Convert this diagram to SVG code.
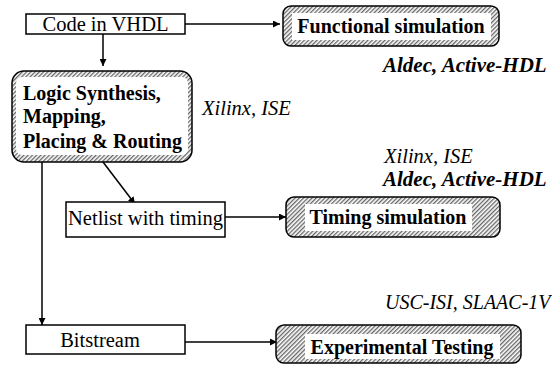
<svg xmlns="http://www.w3.org/2000/svg" width="552" height="365" viewBox="0 0 552 365">
<style>
.box{fill:#fff;stroke:#000;stroke-width:1.5}
.hbox{fill:url(#hatch);stroke:#000;stroke-width:1.5}
.inner{fill:#fff;stroke:none}
.t{font-family:'Liberation Serif',serif;font-size:20.5px;fill:#000}
.b{font-family:'Liberation Serif',serif;font-size:20px;font-weight:bold;fill:#000}
.i{font-family:'Liberation Serif',serif;font-size:20.5px;font-style:italic;fill:#000}
.bi{font-family:'Liberation Serif',serif;font-size:21px;font-style:italic;font-weight:bold;fill:#000}
.c{fill:none;stroke:#000;stroke-width:1.5}
</style>
<defs>
<pattern id="hatch" patternUnits="userSpaceOnUse" width="3" height="3" patternTransform="rotate(45)">
<rect width="3" height="3" fill="#ffffff"/>
<line x1="0.7" y1="0" x2="0.7" y2="3" stroke="#555" stroke-width="1.2"/>
</pattern>
<marker id="arr" viewBox="0 0 10 10" refX="10" refY="5" markerWidth="7" markerHeight="7" markerUnits="userSpaceOnUse" orient="auto">
<path d="M0,0 L10,5 L0,10 z" fill="#000"/>
</marker>
</defs>
<rect width="552" height="365" fill="#fff"/>

<g id="connectors">
<line class="c" x1="185" y1="24" x2="280" y2="24" marker-end="url(#arr)"/>
<line class="c" x1="103" y1="34" x2="103" y2="66" marker-end="url(#arr)"/>
<line class="c" x1="103" y1="162" x2="135" y2="204" marker-end="url(#arr)"/>
<line class="c" x1="42" y1="162" x2="42" y2="325" marker-end="url(#arr)"/>
<line class="c" x1="225" y1="217" x2="286" y2="217" marker-end="url(#arr)"/>
<line class="c" x1="185" y1="342" x2="277" y2="342" marker-end="url(#arr)"/>
</g>

<g id="code">
<rect class="box" x="26" y="14" width="159" height="20"/>
<text class="t" x="105.5" y="30.5" text-anchor="middle">Code in VHDL</text>
</g>

<g id="functional">
<rect class="hbox" x="283" y="6" width="216" height="40" rx="8"/>
<rect class="inner" x="292" y="13" width="199" height="27"/>
<text class="b" x="391" y="33" text-anchor="middle">Functional simulation</text>
</g>

<g id="synthesis">
<rect class="hbox" x="12" y="71" width="180" height="91" rx="12"/>
<rect class="inner" x="16" y="77" width="172" height="78" rx="6"/>
<text class="b" x="23" y="100">Logic Synthesis,</text>
<text class="b" x="23" y="123">Mapping,</text>
<text class="b" x="23" y="148">Placing &amp; Routing</text>
</g>

<g id="netlist">
<rect class="box" x="66" y="202" width="159" height="35"/>
<text class="t" x="145.5" y="225" text-anchor="middle">Netlist with timing</text>
</g>

<g id="timing">
<rect class="hbox" x="286" y="197" width="214" height="40" rx="8"/>
<rect class="inner" x="305" y="204" width="167" height="27"/>
<text class="b" x="388" y="224" text-anchor="middle">Timing simulation</text>
</g>

<g id="bitstream">
<rect class="box" x="26" y="325" width="159" height="29"/>
<text class="t" x="100" y="347" text-anchor="middle">Bitstream</text>
</g>

<g id="experimental">
<rect class="hbox" x="276" y="325" width="245" height="38" rx="8"/>
<rect class="inner" x="305" y="334" width="195" height="25"/>
<text class="b" x="402" y="354" text-anchor="middle">Experimental Testing</text>
</g>

<g id="labels">
<text class="bi" x="383" y="72">Aldec, Active-HDL</text>
<text class="i" x="202" y="115">Xilinx, ISE</text>
<text class="i" x="384" y="163">Xilinx, ISE</text>
<text class="bi" x="383" y="186">Aldec, Active-HDL</text>
<text class="i" x="385" y="309" style="font-size:20px">USC-ISI, SLAAC-1V</text>
</g>
</svg>
